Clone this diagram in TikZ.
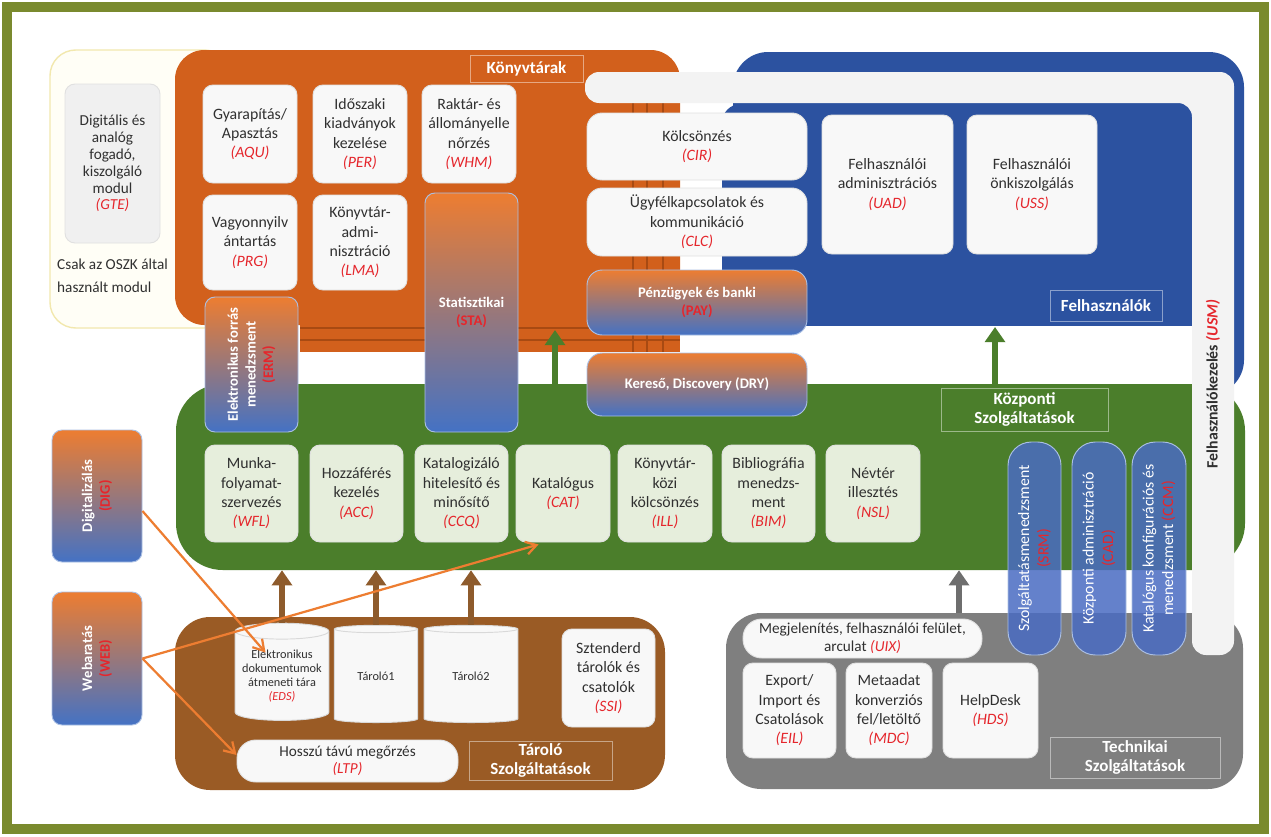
\documentclass[tikz,border=0pt]{standalone}
\usepackage{fontspec}
\setmainfont{Carlito}
\usetikzlibrary{positioning,calc,arrows.meta,shapes.geometric}

\definecolor{frameolive}{HTML}{7A8A2E}
\definecolor{libor}{HTML}{D2601C}
\definecolor{libdark}{HTML}{A84A12}
\definecolor{userblue}{HTML}{2C52A0}
\definecolor{coregreen}{HTML}{4B7E2B}
\definecolor{storbrown}{HTML}{9A5B25}
\definecolor{storarrow}{HTML}{8E5B2C}
\definecolor{techgray}{HTML}{7F7F7F}
\definecolor{techarrow}{HTML}{6E6E6E}
\definecolor{gradorange}{HTML}{ED7D31}
\definecolor{gradblue}{HTML}{4472C4}
\definecolor{svcblue}{HTML}{4A6CC2}
\definecolor{boxgreen}{HTML}{E6EEDC}
\definecolor{boxwhite}{HTML}{F8F8F8}
\definecolor{gtegray}{HTML}{F0F0F0}
\definecolor{bandwhite}{HTML}{F3F3F3}
\definecolor{cream}{HTML}{FFFEF6}
\definecolor{creamline}{HTML}{F2E8AE}
\definecolor{codered}{HTML}{E5262C}
\definecolor{txtgray}{HTML}{303030}

\newcommand{\modfont}{\fontsize{13.5}{16.5}\selectfont}
\newcommand{\gtefont}{\fontsize{13}{14.4}\selectfont}
\newcommand{\drumfont}{\fontsize{10.5}{12}\selectfont}
\newcommand{\uixfont}{\fontsize{13}{15}\selectfont}
\newcommand{\vfont}{\fontsize{12.5}{15}\selectfont}
\newcommand{\titlefont}{\fontsize{14.5}{17}\selectfont\bfseries}
\newcommand{\code}[1]{{\color{codered}\itshape(#1)}}
\newcommand{\gcode}[1]{{\color{codered}(#1)}}

\tikzset{
  area/.style n args={4}{at={({(#1+#3)/2},{(#2+#4)/2})}, minimum width={(#3-#1)*0.03cm}, minimum height={(#4-#2)*0.03cm}},
  modbox/.style={rounded corners=8.5pt, inner sep=0pt, align=center, text=txtgray, font=\modfont},
  whitebox/.style={modbox, fill=boxwhite, draw=black!12, line width=0.8pt},
  greenbox/.style={modbox, fill=boxgreen, draw=black!12, line width=0.8pt},
  gradbox/.style={modbox, top color=gradorange, bottom color=gradblue, draw=white!55!gradblue, line width=0.8pt, text=white, font=\modfont\bfseries},
  svcbox/.style={rounded corners=20pt, inner sep=0pt, fill=svcblue, fill opacity=0.85, draw=white!55!gradblue, line width=0.8pt},
  vtext/.style={rotate=90, align=center, text=white, font=\vfont\bfseries, inner sep=0pt},
  vsvctext/.style={rotate=90, align=center, text=white, font=\modfont, inner sep=0pt},
  paneltitle/.style={draw=white!45!#1, line width=0.8pt, inner sep=0pt, text=white, font=\titlefont, align=center},
  drum/.style={shape=cylinder, shape border rotate=90, aspect=0.2, fill=boxwhite, draw=black!15, line width=0.8pt, minimum height=83pt, inner sep=0pt, font=\drumfont, align=center, text=txtgray},
  fatarrow/.style={line width=5pt, -{Triangle[width=17pt,length=13pt]}},
  feedarrow/.style={gradorange, line width=1.9pt, -{Straight Barb[width=11pt,length=9pt]}},
}

\begin{document}
\begin{tikzpicture}[x=0.03cm, y=-0.03cm, font=\modfont, text=txtgray]
\useasboundingbox (0,0) rectangle (1271,836);
\fill[white] (0,0) rectangle (1271,836);
\draw[frameolive, line width=8.5pt] (7,7) rectangle (1264,829);

% OSZK-only area
\draw[fill=cream, draw=creamline, line width=1.2pt, rounded corners=22pt] (50,50) rectangle (230,328);
\node (gte) [whitebox, fill=gtegray, font=\gtefont, area={65}{84}{160}{243}] {Digitális és\\analóg\\fogadó,\\kiszolgáló\\modul\\\code{GTE}};
\node (oszknote) [anchor=north west, align=left, inner sep=0pt, font=\fontsize{13}{19}\selectfont] at (57,259) {Csak az OSZK által\\használt modul};

% Libraries
\node (libs) [fill=libor, rounded corners=25pt, inner sep=0pt, area={175}{50}{680}{325}] {};
\fill[libor] (300,300) rectangle (680,352);
\foreach \y in {328,340} \draw[libdark, line width=1.2pt] (300,\y) -- (680,\y);
\foreach \x in {633,647,663} \draw[libdark, line width=1.2pt] (\x,100) -- (\x,352);
\node (libtitle) [paneltitle=libor, area={470}{55}{583}{82}] {Könyvtárak};
\node (aqu) [whitebox, area={203}{85}{297}{183}] {Gyarapítás/\\Apasztás\\\code{AQU}};
\node (per) [whitebox, area={313}{85}{407}{183}] {Időszaki\\kiadványok\\kezelése\\\code{PER}};
\node (whm) [whitebox, area={422}{85}{516}{183}] {Raktár- és\\állományelle\\nőrzés\\\code{WHM}};
\node (prg) [whitebox, area={203}{195}{297}{290}] {Vagyonnyilv\\ántartás\\\code{PRG}};
\node (lma) [whitebox, area={313}{195}{407}{290}] {Könyvtár-\\admi-\\nisztráció\\\code{LMA}};

% Users
\fill[userblue, rounded corners=30pt] (733,52) rectangle (1244,395);
\fill[white] (733,326) rectangle (1192,384);
\node (users) [fill=userblue, rounded corners=16pt, inner sep=0pt, area={722}{104}{1190}{325}] {};
\node (usertitle) [paneltitle=userblue, area={1050}{290}{1162}{321}] {Felhasználók};
\node (uad) [whitebox, area={822}{115}{953}{254}] {Felhasználói\\adminisztrációs\\\code{UAD}};
\node (uss) [whitebox, area={967}{115}{1097}{254}] {Felhasználói\\önkiszolgálás\\\code{USS}};

% Central services
\node (core) [fill=coregreen, rounded corners=40pt, inner sep=0pt, area={176}{384}{1245}{570}] {};
\node (coretitle) [paneltitle=coregreen, area={941}{388}{1108}{431}] {Központi\\Szolgáltatások};
\node (wfl) [greenbox, area={205}{445}{298}{542}] {Munka-\\folyamat-\\szervezés\\\code{WFL}};
\node (acc) [greenbox, area={310}{445}{403}{542}] {Hozzáférés\\kezelés\\\code{ACC}};
\node (ccq) [greenbox, area={415}{445}{508}{542}] {Katalogizáló\\hitelesítő és\\minősítő\\\code{CCQ}};
\node (cat) [greenbox, area={516}{445}{610}{542}] {Katalógus\\\code{CAT}};
\node (ill) [greenbox, area={618}{445}{712}{542}] {Könyvtár-\\közi\\kölcsönzés\\\code{ILL}};
\node (bim) [greenbox, area={722}{445}{815}{542}] {Bibliográfia\\menedzs-\\ment\\\code{BIM}};
\node (nsl) [greenbox, area={826}{445}{920}{542}] {Névtér\\illesztés\\\code{NSL}};

% Storage services
\node (store) [fill=storbrown, rounded corners=30pt, inner sep=0pt, area={175}{617}{665}{790}] {};
\node (storetitle) [paneltitle=storbrown, area={469}{741}{612}{780}] {Tároló\\Szolgáltatások};
\node (eds) [drum, minimum width=80pt] at (282,676) {Elektronikus\\dokumentumok\\átmeneti tára\\\code{EDS}};
\node (store1) [drum, minimum width=71pt] at (376,676) {Tároló1};
\node (store2) [drum, minimum width=80pt] at (471,676) {Tároló2};
\node (ssi) [whitebox, area={562}{629}{655}{727}] {Sztenderd\\tárolók és\\csatolók\\\code{SSI}};
\node (ltp) [whitebox, rounded corners=16pt, area={237}{740}{458}{782}, font=\uixfont] {Hosszú távú megőrzés\\\code{LTP}};

% Technical services
\node (tech) [fill=techgray, rounded corners=30pt, inner sep=0pt, area={726}{613}{1243}{789}] {};
\node (techtitle) [paneltitle=techgray, area={1050}{737}{1220}{778}] {Technikai\\Szolgáltatások};
\node (uix) [whitebox, rounded corners=16pt, area={743}{619}{982}{658}, font=\uixfont] {Megjelenítés, felhasználói felület,\\arculat \code{UIX}};
\node (eil) [whitebox, area={743}{663}{836}{758}] {Export/\\Import és\\Csatolások\\\code{EIL}};
\node (mdc) [whitebox, area={846}{663}{932}{758}] {Metaadat\\konverziós\\fel/letöltő\\\code{MDC}};
\node (hds) [whitebox, area={943}{663}{1038}{758}] {HelpDesk\\\code{HDS}};

% User management band
\fill[bandwhite, rounded corners=12pt] (585,72) -- (1234,72) -- (1234,655) -- (1192,655) -- (1192,103) -- (585,103) -- cycle;
\node (usm) [rotate=90, font=\modfont\bfseries, inner sep=0pt] at (1213,384) {Felhasználókezelés \code{USM}};

% Boxes across the panels
\node (cir) [whitebox, rounded corners=13pt, area={587}{113}{807}{180}] {Kölcsönzés\\\code{CIR}};
\node (clc) [whitebox, rounded corners=13pt, area={587}{188}{807}{256}] {Ügyfélkapcsolatok és\\kommunikáció\\\code{CLC}};
\node (pay) [gradbox, rounded corners=13pt, area={587}{270}{807}{335}, font=\vfont\bfseries] {Pénzügyek és banki\\\gcode{PAY}};
\node (dry) [gradbox, rounded corners=13pt, area={587}{353}{807}{416}, font=\vfont\bfseries] {Kereső, Discovery (DRY)};
\node (sta) [gradbox, area={425}{193}{518}{432}, font=\vfont\bfseries] {Statisztikai\\\gcode{STA}};
\node (erm) [gradbox, area={205}{297}{298}{432}] {};
\node (ermtext) [vtext] at (erm.center) {Elektronikus forrás\\menedzsment\\\gcode{ERM}};
\node (dig) [gradbox, area={52}{430}{142}{562}] {};
\node (digtext) [vtext] at (dig.center) {Digitalizálás\\\gcode{DIG}};
\node (web) [gradbox, area={52}{592}{142}{725}] {};
\node (webtext) [vtext] at (web.center) {Webaratás\\\gcode{WEB}};
\node (srm) [svcbox, area={1008}{442}{1061}{655}] {};
\node (srmtext) [vsvctext] at (srm.center) {Szolgáltatásmenedzsment\\\gcode{SRM}};
\node (cad) [svcbox, area={1072}{442}{1126}{655}] {};
\node (cadtext) [vsvctext] at (cad.center) {Központi adminisztráció\\\gcode{CAD}};
\node (ccm) [svcbox, area={1132}{442}{1186}{655}] {};
\node (ccmtext) [vsvctext] at (ccm.center) {Katalógus konfigurációs és\\menedzsment \gcode{CCM}};

% Arrows
\coordinate (libtip) at (555,330);
\coordinate (usertip) at (995,327);
\coordinate (techout) at (959,613);
\draw[fatarrow, coregreen] (core.north -| libtip) -- (libtip);
\draw[fatarrow, coregreen] (core.north -| usertip) -- (usertip);
\foreach \drumnode in {eds,store1,store2}
  \draw[fatarrow, storarrow] (\drumnode.north) -- (\drumnode.north |- core.south);
\draw[fatarrow, techarrow] (techout) -- (techout |- core.south);
\draw[feedarrow] ($(dig.east)+(0,15)$) -- ($(eds.north west)+(30,23)$);
\draw[feedarrow] (web.east) -- ($(cat.south west)+(23,2)$);
\draw[feedarrow] (web.east) -- ($(ltp.west)+(0,-6)$);
\end{tikzpicture}
\end{document}
